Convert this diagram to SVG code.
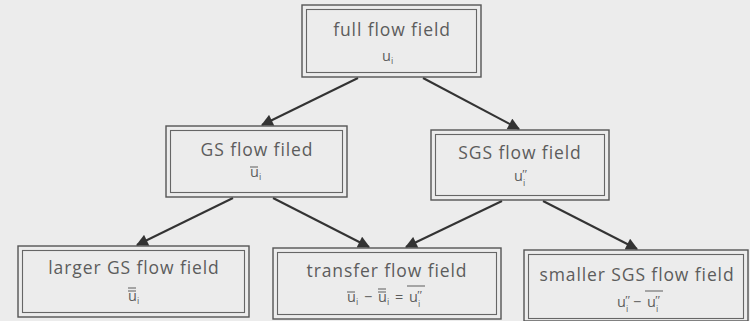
<svg xmlns="http://www.w3.org/2000/svg" width="750" height="321" viewBox="0 0 750 321">
<defs>
<marker id="ah" viewBox="0 0 10 10" refX="9" refY="5" markerWidth="6.5" markerHeight="6" markerUnits="strokeWidth" orient="auto">
<path d="M0,0 L10,5 L0,10 Z" fill="#333"/>
</marker>
</defs>
<style>
.bo{fill:none;stroke:#555;stroke-width:1.4}
.bi{fill:none;stroke:#666;stroke-width:1.1}
.t{font-family:"Open Sans","DejaVu Sans",sans-serif;font-size:17.5px;letter-spacing:0.9px;fill:#5c5c5c;text-anchor:middle}
.m{font-family:"Open Sans","DejaVu Sans",sans-serif;font-size:14.5px;fill:#5c5c5c}
.s{font-family:"Open Sans","DejaVu Sans",sans-serif;font-size:9px;fill:#5c5c5c}
.p{font-family:"Liberation Serif",serif;font-size:13px;fill:#5c5c5c}
.ol{stroke:#5c5c5c;stroke-width:1}
.c{stroke:#333;stroke-width:2;fill:none;marker-end:url(#ah)}
</style>
<rect width="750" height="321" fill="#ececec"/>
<g id="connectors">
<line class="c" x1="358" y1="78" x2="262" y2="125"/>
<line class="c" x1="423" y1="78" x2="519" y2="129"/>
<line class="c" x1="233" y1="198" x2="137" y2="245"/>
<line class="c" x1="273" y1="198" x2="369" y2="247"/>
<line class="c" x1="502" y1="201" x2="406" y2="247"/>
<line class="c" x1="543" y1="201" x2="637" y2="249"/>
</g>
<g id="full">
<rect class="bo" x="302" y="5" width="179" height="72"/>
<rect class="bi" x="306.5" y="9.5" width="170" height="63"/>
<text class="t" x="392" y="36">full flow field</text>
<text class="m" x="382" y="61">u</text><text class="s" x="391" y="64">i</text>
</g>
<g id="gs">
<rect class="bo" x="166" y="126" width="181" height="71"/>
<rect class="bi" x="170.5" y="130.5" width="172" height="62"/>
<text class="t" x="257" y="156">GS flow filed</text>
<text class="m" x="250" y="177">u</text><text class="s" x="259" y="180">i</text>
<line class="ol" x1="250" y1="167" x2="258" y2="167"/>
</g>
<g id="sgs">
<rect class="bo" x="431" y="130" width="178" height="70"/>
<rect class="bi" x="435.5" y="134.5" width="169" height="61"/>
<text class="t" x="520" y="159">SGS flow field</text>
<text class="m" x="514" y="181">u</text><text class="p" x="522" y="178">″</text><text class="s" x="523" y="186">i</text>
</g>
<g id="larger">
<rect class="bo" x="18" y="246" width="231" height="71"/>
<rect class="bi" x="22.5" y="250.5" width="222" height="62"/>
<text class="t" x="134" y="274">larger GS flow field</text>
<text class="m" x="128" y="301">u</text><text class="s" x="137" y="304">i</text>
<line class="ol" x1="128" y1="288" x2="136" y2="288"/>
<line class="ol" x1="128" y1="291" x2="136" y2="291"/>
</g>
<g id="transfer">
<rect class="bo" x="273" y="248" width="228" height="71"/>
<rect class="bi" x="277.5" y="252.5" width="219" height="62"/>
<text class="t" x="387" y="277">transfer flow field</text>
<text class="m" x="347" y="302">u</text><text class="s" x="356" y="305">i</text>
<line class="ol" x1="347" y1="292" x2="355" y2="292"/>
<text class="m" x="364" y="302">−</text>
<text class="m" x="378" y="302">u</text><text class="s" x="387" y="305">i</text>
<line class="ol" x1="378" y1="289" x2="386" y2="289"/>
<line class="ol" x1="378" y1="292" x2="386" y2="292"/>
<text class="m" x="395" y="302">=</text>
<text class="m" x="409" y="302">u</text><text class="p" x="417" y="299">″</text><text class="s" x="418" y="307">i</text>
<line class="ol" x1="407" y1="286" x2="425" y2="286"/>
</g>
<g id="smaller">
<rect class="bo" x="524" y="250" width="224" height="71"/>
<rect class="bi" x="528.5" y="254.5" width="215" height="64"/>
<text class="t" x="637" y="281">smaller SGS flow field</text>
<text class="m" x="617" y="307">u</text><text class="p" x="625" y="304">″</text><text class="s" x="626" y="312">i</text>
<text class="m" x="633" y="307">−</text>
<text class="m" x="647" y="307">u</text><text class="p" x="655" y="304">″</text><text class="s" x="656" y="312">i</text>
<line class="ol" x1="645" y1="291" x2="663" y2="291"/>
</g>
</svg>
